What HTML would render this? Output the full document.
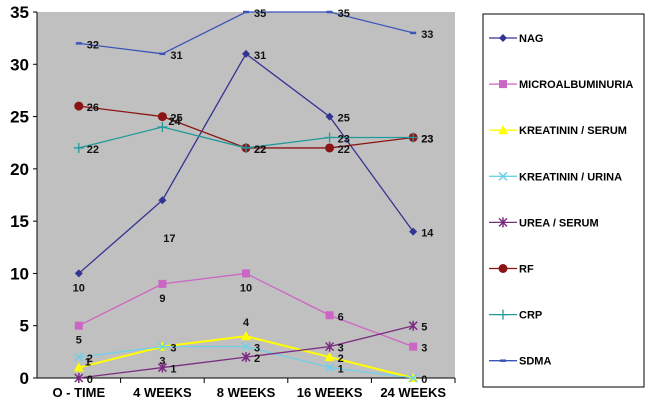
<!DOCTYPE html>
<html><head><meta charset="utf-8"><style>
body{margin:0;background:#fff;}
svg{display:block;font-family:"Liberation Sans",Arial,sans-serif;}
</style></head><body>
<svg id="chart" width="669" height="414">
<rect x="37" y="12" width="418" height="366" fill="#c0c0c0"/>
<g id="marks"></g>
<rect x="483" y="14" width="161" height="373" fill="#fff" stroke="#000" stroke-width="1"/>
<g id="legend"></g>
</svg>
<script>
const categories=["O - TIME","4 WEEKS","8 WEEKS","16 WEEKS","24 WEEKS"];
const yTicks=[0,5,10,15,20,25,30,35];
const seriesNames=["NAG","MICROALBUMINURIA","KREATININ / SERUM","KREATININ / URINA","UREA / SERUM","RF","CRP","SDMA"];
const nag=[10,17,31,25,14];
const micro=[5,9,10,6,3];
const kSerum=[1,3,4,2,0];
const kUrina=[2,3,3,1,0];
const urea=[0,1,2,3,5];
const rf=[26,25,22,22,23];
const crp=[22,24,22,23,23];
const sdma=[32,31,35,35,33];
const seriesValues=[nag,micro,kSerum,kUrina,urea,rf,crp,sdma];
const colors=["#333391","#cc66c4","#ffff00","#70d0e8","#7a2d80","#8b1414","#22999a","#3a55b8"];
const markers=["diamond","square","triangle","x","star","circle","plus","dash"];
const labelPos=[["b","bb","r","r","r"],["b","b","b","r","r"],["ru","b","a","r","r"],["r","r","r","r","n"],["r","r","r","r","r"],["r","r","r","r","r"],["r","ru","r","r","r"],["r","r","r","r","r"]];
const X0=37,W=418,Y0=378,H=366,MAX=35;
const xs=i=>X0+W/categories.length*(i+0.5);
const ys=v=>Y0-v/MAX*H;
const NS="http://www.w3.org/2000/svg";
const svg=document.getElementById('chart'),g=document.getElementById('marks'),lg=document.getElementById('legend');
function el(t,a,p){const e=document.createElementNS(NS,t);for(const k in a)e.setAttribute(k,a[k]);(p||g).appendChild(e);return e;}
let ax=el('line',{x1:X0,y1:12,x2:X0,y2:Y0,stroke:'#000'});


let bx=el('line',{x1:X0,y1:Y0,x2:X0+W,y2:Y0,stroke:'#000'});


yTicks.forEach(v=>{
 el('line',{x1:X0-4,y1:ys(v),x2:X0,y2:ys(v),stroke:'#000'});
 const t=el('text',{x:29,y:ys(v)+6,'text-anchor':'end','font-size':17,'font-weight':'bold'});
 t.textContent=v;
 
 
});
categories.forEach((c,i)=>{
 const bxp=X0+W/categories.length*(i+1);
 el('line',{x1:bxp,y1:Y0,x2:bxp,y2:Y0+5,stroke:'#000'});
 const t=el('text',{x:xs(i),y:397,'text-anchor':'middle','font-size':13,'font-weight':'bold'});
 t.textContent=c;
 
 
});
function marker(type,x,y,c,p){
 const pa=p||g;
 if(type==='diamond')return el('polygon',{points:`${x},${y-4} ${x+4},${y} ${x},${y+4} ${x-4},${y}`,fill:c},pa);
 if(type==='square')return el('rect',{x:x-4,y:y-4,width:8,height:8,fill:c},pa);
 if(type==='triangle')return el('polygon',{points:`${x},${y-5} ${x+5},${y+4} ${x-5},${y+4}`,fill:c},pa);
 if(type==='circle')return el('circle',{cx:x,cy:y,r:4.5,fill:c},pa);
 if(type==='x')return el('path',{d:`M${x-4} ${y-4}L${x+4} ${y+4}M${x-4} ${y+4}L${x+4} ${y-4}`,stroke:c,'stroke-width':1.5},pa);
 if(type==='star')return el('path',{d:`M${x-4} ${y-4}L${x+4} ${y+4}M${x-4} ${y+4}L${x+4} ${y-4}M${x} ${y-5}L${x} ${y+5}`,stroke:c,'stroke-width':1.5},pa);
 if(type==='plus')return el('path',{d:`M${x-5} ${y}L${x+5} ${y}M${x} ${y-5}L${x} ${y+5}`,stroke:c,'stroke-width':1.3},pa);
 return el('path',{d:`M${x-3} ${y}L${x+3} ${y}`,stroke:c,'stroke-width':2.5},pa);
}
seriesValues.forEach((vals,s)=>{
 const c=colors[s];
 const ln=el('polyline',{points:vals.map((v,i)=>xs(i)+','+ys(v)).join(' '),fill:'none',stroke:c,'stroke-width':s===2?2:1.3});
 
 
 vals.forEach((v,i)=>{
  const m=marker(markers[s],xs(i),ys(v),c);
  
  
  const p=labelPos[s][i];if(p==='n')return;
  let x=xs(i)+8,y=ys(v)+5,a='start';
  if(p==='b'){x=xs(i);y=ys(v)+18;a='middle';}
  if(p==='bb'){x=xs(i)+7;y=ys(v)+42;a='middle';}
  if(p==='a'){x=xs(i);y=ys(v)-10;a='middle';}
  if(p==='ru'){x=xs(i)+6;y=ys(v)-2;}
  const t=el('text',{x:x,y:y,'text-anchor':a,'font-size':11,'font-weight':'bold',fill:'#111'});
  t.textContent=v;
  
  
 });
});
seriesNames.forEach((n,s)=>{
 const y=38+s*46.1;
 el('line',{x1:489,y1:y,x2:517,y2:y,stroke:colors[s],'stroke-width':1.3},lg);
 marker(markers[s],503,y,colors[s],lg);
 const t=el('text',{x:519,y:y+4,'font-size':11,'font-weight':'bold'},lg);
 t.textContent=n;
 
 
});
</script>
</body></html>
